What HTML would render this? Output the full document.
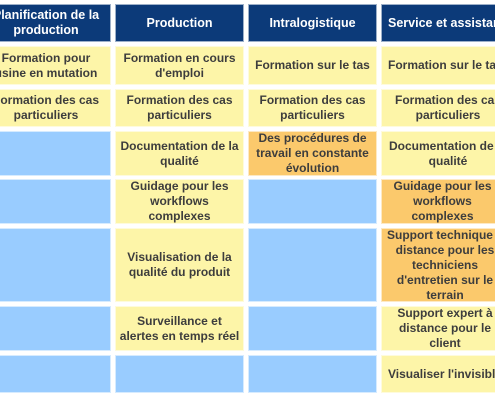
<!DOCTYPE html>
<html><head><meta charset="utf-8"><style>
html,body{margin:0;padding:0;background:#fff;}
body{width:495px;height:400px;position:relative;overflow:hidden;font-family:"Liberation Sans",Arial,sans-serif;}
.c{position:absolute;display:flex;align-items:center;justify-content:center;text-align:center;font-weight:bold;font-size:12px;line-height:15px;color:#3d3d3d;box-sizing:border-box;border:1px solid rgba(255,255,255,0.6);}
.h{background:#0c3a79;color:#fff;font-size:12.5px;}
.y{background:#fdf5a8;}
.b{background:#99ccff;}
.o{background:#fbc96c;}
</style></head><body>
<div class="c h" style="left:-19px;top:4px;width:130px;height:38px">Planification de la<br>production</div>
<div class="c h" style="left:115px;top:4px;width:129px;height:38px">Production</div>
<div class="c h" style="left:248px;top:4px;width:129px;height:38px">Intralogistique</div>
<div class="c h" style="left:381px;top:4px;width:140px;height:38px;justify-content:flex-start;padding-left:6px">Service et assistance</div>

<div class="c y" style="left:-19px;top:46px;width:130px;height:39px">Formation pour<br>usine en mutation</div>
<div class="c y" style="left:115px;top:46px;width:129px;height:39px">Formation en cours<br>d'emploi</div>
<div class="c y" style="left:248px;top:46px;width:129px;height:39px">Formation sur le tas</div>
<div class="c y" style="left:381px;top:46px;width:140px;height:39px;justify-content:flex-start;padding-left:6px">Formation sur le tas</div>

<div class="c y" style="left:-19px;top:89px;width:130px;height:38px">Formation des cas<br>particuliers</div>
<div class="c y" style="left:115px;top:89px;width:129px;height:38px">Formation des cas<br>particuliers</div>
<div class="c y" style="left:248px;top:89px;width:129px;height:38px">Formation des cas<br>particuliers</div>
<div class="c y" style="left:381px;top:89px;width:134px;height:38px">Formation des cas<br>particuliers</div>

<div class="c b" style="left:-19px;top:131px;width:130px;height:45px"></div>
<div class="c y" style="left:115px;top:131px;width:129px;height:45px">Documentation de la<br>qualité</div>
<div class="c o" style="left:248px;top:131px;width:129px;height:45px">Des procédures de<br>travail en constante<br>évolution</div>
<div class="c y" style="left:381px;top:131px;width:134px;height:45px">Documentation de la<br>qualité</div>

<div class="c b" style="left:-19px;top:179px;width:130px;height:45px"></div>
<div class="c y" style="left:115px;top:179px;width:129px;height:45px">Guidage pour les<br>workflows<br>complexes</div>
<div class="c b" style="left:248px;top:179px;width:129px;height:45px"></div>
<div class="c o" style="left:381px;top:179px;width:123px;height:45px">Guidage pour les<br>workflows<br>complexes</div>

<div class="c b" style="left:-19px;top:228px;width:130px;height:74px"></div>
<div class="c y" style="left:115px;top:228px;width:129px;height:74px">Visualisation de la<br>qualité du produit</div>
<div class="c b" style="left:248px;top:228px;width:129px;height:74px"></div>
<div class="c o" style="left:381px;top:228px;width:128px;height:74px">Support technique à<br>distance pour les<br>techniciens<br>d'entretien sur le<br>terrain</div>

<div class="c b" style="left:-19px;top:306px;width:130px;height:45px"></div>
<div class="c y" style="left:115px;top:306px;width:129px;height:45px">Surveillance et<br>alertes en temps réel</div>
<div class="c b" style="left:248px;top:306px;width:129px;height:45px"></div>
<div class="c y" style="left:381px;top:306px;width:128px;height:45px">Support expert à<br>distance pour le<br>client</div>

<div class="c b" style="left:-19px;top:355px;width:130px;height:38px"></div>
<div class="c b" style="left:115px;top:355px;width:129px;height:38px"></div>
<div class="c b" style="left:248px;top:355px;width:129px;height:38px"></div>
<div class="c y" style="left:381px;top:355px;width:140px;height:38px;justify-content:flex-start;padding-left:6px">Visualiser l'invisible</div>
</body></html>
